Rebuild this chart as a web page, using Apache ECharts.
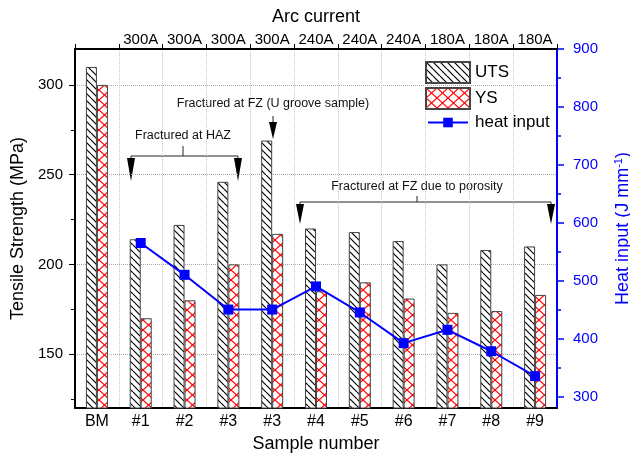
<!DOCTYPE html>
<html>
<head>
<meta charset="utf-8">
<script src="https://cdn.jsdelivr.net/npm/echarts@6/dist/echarts.min.js"></script>
<style>
  html, body { margin: 0; padding: 0; background: #fff; }
  #chart { width: 630px; height: 454px; }
</style>
</head>
<body>
<div id="chart"></div>
<script>
// 数据
const samples = ['BM', '#1', '#2', '#3', '#3', '#4', '#5', '#6', '#7', '#8', '#9'];
const arcCurrent = ['', '300A', '300A', '300A', '300A', '240A', '240A', '240A', '180A', '180A', '180A'];
const uts = [310, 214, 222, 246, 269, 220, 218, 213, 200, 208, 210];
const ys = [300, 170, 180, 200, 217, 185, 190, 181, 173, 174, 183];
const heatInput = [null, 565, 510, 450, 450, 490, 445, 392, 415, 378, 335];
const leftTicks = [150, 200, 250, 300];
const leftMinor = [125, 175, 225, 275];
const rightTicks = [300, 400, 500, 600, 700, 800, 900];
const rightMinor = [350, 450, 550, 650, 750, 850];

const FONT = 'Liberation Sans, Arial, sans-serif';
const BLUE = '#0000ff';

// hatch patterns drawn on small canvases
function makePattern(w, h, draw) {
  const c = document.createElement('canvas');
  c.width = w;
  c.height = h;
  const ctx = c.getContext('2d');
  ctx.fillStyle = '#fff';
  ctx.fillRect(0, 0, w, h);
  draw(ctx, w, h);
  return c;
}

const utsPattern = makePattern(7, 7, (ctx, w, h) => {
  ctx.strokeStyle = '#000';
  ctx.lineWidth = 1.2;
  for (let k = -1; k <= 1; k++) {
    ctx.beginPath();
    ctx.moveTo(k * w, 0);
    ctx.lineTo(k * w + w, h);
    ctx.stroke();
  }
});

const ysPattern = makePattern(11, 10, (ctx, w, h) => {
  ctx.strokeStyle = '#ff0000';
  ctx.lineWidth = 1.2;
  for (let k = -1; k <= 1; k++) {
    ctx.beginPath();
    ctx.moveTo(k * w, 0);
    ctx.lineTo(k * w + w, h);
    ctx.stroke();
    ctx.beginPath();
    ctx.moveTo(k * w + w, 0);
    ctx.lineTo(k * w, h);
    ctx.stroke();
  }
});

function arrow(x, yTop, yTip) {
  return {
    type: 'polygon',
    shape: { points: [[x - 4, yTop], [x + 4, yTop], [x, yTip]] },
    style: { fill: '#000' }
  };
}

function seg(points) {
  return {
    type: 'polyline',
    shape: { points: points },
    style: { stroke: '#222', lineWidth: 1, fill: null }
  };
}

function note(text, x, y) {
  return {
    type: 'text',
    x: x,
    y: y,
    style: { text: text, font: '12.5px ' + FONT, fill: '#111', align: 'center', verticalAlign: 'middle' }
  };
}

const chart = echarts.init(document.getElementById('chart'));

const option = {
  animation: false,
  grid: { left: 75, right: 73, top: 49, bottom: 46, outerBoundsMode: 'none', containLabel: false },
  legend: [
    {
      orient: 'vertical',
      left: 425,
      top: 61,
      padding: 0,
      itemWidth: 44,
      itemHeight: 21,
      itemGap: 3,
      textStyle: { fontFamily: FONT, fontSize: 17, color: '#000' },
      data: [{ name: 'UTS', icon: 'rect' }, { name: 'YS', icon: 'rect' }]
    },
    {
      orient: 'vertical',
      left: 427,
      top: 114,
      padding: 0,
      itemWidth: 40,
      itemHeight: 12,
      textStyle: { fontFamily: FONT, fontSize: 17, color: '#000', padding: [0, 0, 0, 2] },
      data: ['heat input']
    }
  ],
  xAxis: [
    {
      type: 'category',
      data: samples,
      position: 'bottom',
      name: 'Sample number',
      nameLocation: 'middle',
      nameGap: 21,
      nameTextStyle: { fontFamily: FONT, fontSize: 18, color: '#000' },
      axisLine: { lineStyle: { color: '#000', width: 2 } },
      axisTick: { show: false },
      axisLabel: { interval: 0, fontFamily: FONT, fontSize: 16, color: '#000', margin: 6 },
      splitLine: { show: true, lineStyle: { color: '#c8c8c8', type: 'dotted' } }
    },
    {
      type: 'category',
      data: arcCurrent,
      position: 'top',
      name: 'Arc current',
      nameLocation: 'middle',
      nameGap: 23,
      nameTextStyle: { fontFamily: FONT, fontSize: 18, color: '#000' },
      axisLine: { lineStyle: { color: '#000', width: 2 } },
      axisTick: { show: true, interval: 0, length: 5, lineStyle: { color: '#000' } },
      axisLabel: { interval: 0, fontFamily: FONT, fontSize: 15, color: '#000', margin: 2 },
      splitLine: { show: false }
    }
  ],
  yAxis: [
    {
      type: 'value',
      position: 'left',
      min: 120,
      max: 320,
      name: 'Tensile Strength (MPa)',
      nameLocation: 'middle',
      nameGap: 48,
      nameTextStyle: { fontFamily: FONT, fontSize: 18, color: '#000' },
      axisLine: { show: true, lineStyle: { color: '#000', width: 2 } },
      axisTick: { show: true, length: 6, customValues: leftTicks, lineStyle: { color: '#000' } },
      axisLabel: { fontFamily: FONT, fontSize: 15, color: '#000', margin: 12, customValues: leftTicks },
      splitLine: { show: true, lineStyle: { color: '#aaa', type: 'dotted' } }
    },
    {
      type: 'value',
      position: 'right',
      min: 280,
      max: 900,
      name: '{a|Heat input (J mm}{s|-1}{a|)}',
      nameLocation: 'middle',
      nameGap: 56,
      nameTextStyle: {
        rich: {
          a: { fontFamily: FONT, fontSize: 18, color: BLUE, lineHeight: 20 },
          s: { fontFamily: FONT, fontSize: 11, color: BLUE, verticalAlign: 'top', lineHeight: 20 }
        }
      },
      axisLine: { show: true, lineStyle: { color: BLUE, width: 2 } },
      axisTick: { show: true, length: 7, customValues: rightTicks, lineStyle: { color: BLUE, width: 1.5 } },
      axisLabel: { fontFamily: FONT, fontSize: 15, color: BLUE, margin: 16, customValues: rightTicks },
      splitLine: { show: false }
    },
    {
      type: 'value',
      position: 'left',
      min: 120,
      max: 320,
      axisLine: { show: false },
      axisTick: { show: true, length: 4, customValues: leftMinor, lineStyle: { color: '#000' } },
      axisLabel: { show: false },
      splitLine: { show: false }
    },
    {
      type: 'value',
      position: 'right',
      min: 280,
      max: 900,
      axisLine: { show: false },
      axisTick: { show: true, length: 4, customValues: rightMinor, lineStyle: { color: BLUE, width: 1.5 } },
      axisLabel: { show: false },
      splitLine: { show: false }
    }
  ],
  series: [
    {
      name: 'UTS',
      type: 'bar',
      xAxisIndex: 0,
      yAxisIndex: 0,
      barWidth: 11,
      barGap: '0%',
      itemStyle: { color: { image: utsPattern, repeat: 'repeat' }, borderColor: '#444', borderWidth: 1 },
      data: uts
    },
    {
      name: 'YS',
      type: 'bar',
      xAxisIndex: 0,
      yAxisIndex: 0,
      barWidth: 11,
      barGap: '0%',
      itemStyle: { color: { image: ysPattern, repeat: 'repeat' }, borderColor: '#444', borderWidth: 1 },
      data: ys
    },
    {
      name: 'heat input',
      type: 'line',
      xAxisIndex: 0,
      yAxisIndex: 1,
      symbol: 'rect',
      symbolSize: 10,
      itemStyle: { color: BLUE },
      lineStyle: { color: BLUE, width: 2 },
      z: 5,
      data: heatInput
    }
  ],
  graphic: [
    // Fractured at HAZ
    note('Fractured at HAZ', 183, 136),
    seg([[183, 146], [183, 156]]),
    seg([[131, 158], [131, 156], [238, 156], [238, 158]]),
    arrow(131, 158, 181),
    arrow(238, 158, 181),
    // Fractured at FZ (U groove sample)
    note('Fractured at FZ (U groove sample)', 273, 104),
    seg([[273, 116], [273, 123]]),
    arrow(273, 122, 139),
    // Fractured at FZ due to porosity
    note('Fractured at FZ due to porosity', 417, 187),
    seg([[417, 196], [417, 202]]),
    seg([[300, 204], [300, 202], [551, 202], [551, 204]]),
    arrow(300, 204, 224),
    arrow(551, 204, 224)
  ]
};

chart.setOption(option);
</script>
</body>
</html>
